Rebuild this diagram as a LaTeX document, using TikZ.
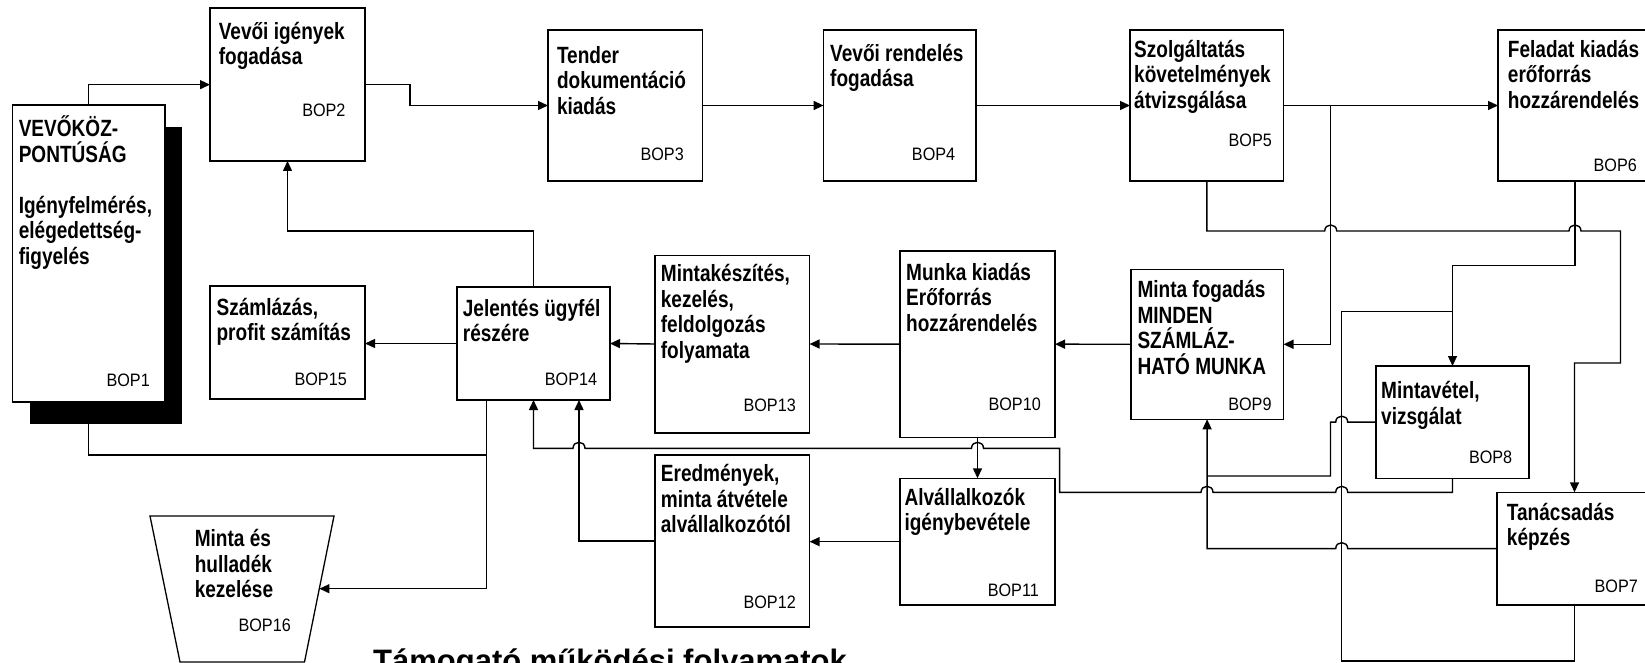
\documentclass[tikz,border=0pt]{standalone}
\usepackage{fontspec}
\setmainfont{Liberation Sans}
\newfontfamily\ttlfont[FakeStretch=0.81]{Liberation Sans}
\newfontfamily\lblfont[FakeStretch=0.9]{Liberation Sans}
\usetikzlibrary{arrows.meta}
\newcommand\ft{\rule{0pt}{24pt}}
\begin{document}
\begin{tikzpicture}[x=1pt,y=-1pt,
  box/.style={draw, line width=1.6pt, fill=white, inner sep=0pt, outer sep=0pt, anchor=north west},
  ttl/.style={anchor=north west, inner sep=0pt, align=left, font=\ttlfont\bfseries\fontsize{23.5}{25.5}\selectfont},
  lbl/.style={anchor=east, inner sep=0pt, font=\lblfont\fontsize{18}{20}\selectfont},
  conn/.style={line width=1.4pt},
  arr/.style={conn, -{Triangle[length=10pt,width=9pt]}},
  hopl/.style args={#1/#2}{insert path={-- (#1+6,#2) .. controls (#1+6,#2-8) and (#1-6,#2-8) .. (#1-6,#2)}},
  hopr/.style args={#1/#2}{insert path={-- (#1-6,#2) .. controls (#1-6,#2-8) and (#1+6,#2-8) .. (#1+6,#2)}}]
\useasboundingbox (0,0) rectangle (1645,663);
\fill[white] (0,0) rectangle (1645,663);
\clip (0,0) rectangle (1645,663);

% boxes
\node[box, fill=black, draw=none, minimum width=152.5pt, minimum height=297pt] (sh1) at (29.5,127) {};
\node[box, minimum width=152.5pt, minimum height=297pt] (b1) at (12.5,105) {};
\node[box, minimum width=155pt, minimum height=152.7pt] (b2) at (210,8.3) {};
\node[box, minimum width=154.5pt, minimum height=151pt] (b3) at (548,30) {};
\node[box, minimum width=152.4pt, minimum height=151pt] (b4) at (823.6,30) {};
\node[box, minimum width=153.6pt, minimum height=151pt] (b5) at (1130,30) {};
\node[box, minimum width=154pt, minimum height=151pt] (b6) at (1498,30) {};
\node[box, minimum width=155pt, minimum height=112.7pt] (b7) at (1497,492.3) {};
\node[box, minimum width=153pt, minimum height=112.3pt] (b8) at (1376,366) {};
\node[box, minimum width=152.8pt, minimum height=150pt] (b9) at (1130.7,269.3) {};
\node[box, minimum width=155pt, minimum height=186.3pt] (b10) at (900,251) {};
\node[box, minimum width=155pt, minimum height=126.7pt] (b11) at (900,478.3) {};
\node[box, minimum width=154.6pt, minimum height=171.7pt] (b12) at (655,455) {};
\node[box, minimum width=154.6pt, minimum height=177.4pt] (b13) at (655,255.3) {};
\node[box, minimum width=153pt, minimum height=113pt] (b14) at (457,287) {};
\node[box, minimum width=155pt, minimum height=113pt] (b15) at (210,286) {};
\draw[line width=1.3pt] (150,516) -- (334,516) -- (304.5,662) -- (180,662) -- cycle;
\coordinate (b16r) at (319.4,588.7);
\coordinate (j1) at (1330.7,105.5);
\coordinate (b14out) at (486.7,400);
\coordinate (b14in2) at (579,400);

% titles
\node[ttl] (t1) at (18.6,112.7) {\ft VEVŐKÖZ-\\PONTÚSÁG\\[25.5pt]Igényfelmérés,\\elégedettség-\\figyelés};
\node[ttl] (t2) at (218.6,15.3) {\ft Vevői igények\\fogadása};
\node[ttl] (t3) at (556.8,39.3) {\ft Tender\\dokumentáció\\kiadás};
\node[ttl] (t4) at (830,37) {\ft Vevői rendelés\\fogadása};
\node[ttl] (t5) at (1134,33.3) {\ft Szolgáltatás\\követelmények\\átvizsgálása};
\node[ttl] (t6) at (1507.7,33.3) {\ft Feladat kiadás\\erőforrás\\hozzárendelés};
\node[ttl] (t7) at (1506.7,496) {\ft Tanácsadás\\képzés};
\node[ttl] (t8) at (1381,374.3) {\ft Mintavétel,\\vizsgálat};
\node[ttl] (t9) at (1137.3,273.7) {\ft Minta fogadás\\MINDEN\\SZÁMLÁZ-\\HATÓ MUNKA};
\node[ttl] (t10) at (906,256) {\ft Munka kiadás\\Erőforrás\\hozzárendelés};
\node[ttl] (t11) at (904.3,481) {\ft Alvállalkozók\\igénybevétele};
\node[ttl] (t12) at (660.7,457.7) {\ft Eredmények,\\minta átvétele\\alvállalkozótól};
\node[ttl] (t13) at (660.7,257.7) {\ft Mintakészítés,\\kezelés,\\feldolgozás\\folyamata};
\node[ttl] (t14) at (462.7,292) {\ft Jelentés ügyfél\\részére};
\node[ttl] (t15) at (216.4,291) {\ft Számlázás,\\profit számítás};
\node[ttl] (t16) at (194.6,522.7) {\ft Minta és\\hulladék\\kezelése};

% labels
\node[lbl] (l1) at (150,380) {BOP1};
\node[lbl] (l2) at (345.7,110) {BOP2};
\node[lbl] (l3) at (684,154) {BOP3};
\node[lbl] (l4) at (955.4,154) {BOP4};
\node[lbl] (l5) at (1272,140) {BOP5};
\node[lbl] (l6) at (1637,165.7) {BOP6};
\node[lbl] (l7) at (1638,586.7) {BOP7};
\node[lbl] (l8) at (1512.4,457.7) {BOP8};
\node[lbl] (l9) at (1271.7,404.3) {BOP9};
\node[lbl] (l10) at (1041,404.3) {BOP10};
\node[lbl] (l11) at (1039,590) {BOP11};
\node[lbl] (l12) at (796,602.7) {BOP12};
\node[lbl] (l13) at (796,405) {BOP13};
\node[lbl] (l14) at (597.3,379.3) {BOP14};
\node[lbl] (l15) at (347,379) {BOP15};
\node[lbl] (l16) at (291,625.7) {BOP16};

\node[anchor=base west, inner sep=0pt, font=\bfseries\fontsize{31}{34}\selectfont] (title) at (373,671.5) {Támogató működési folyamatok};

% connectors
\draw[arr] (b1.north) |- (b2.west);
\draw[arr] (b2.east) -- ++(45,0) |- (b3.west);
\draw[arr] (b3.east) -- (b4.west);
\draw[arr] (b4.east) -- (b5.west);
\draw[arr] (b5.east) -- (b6.west);
\draw[arr] (j1) |- (b9.east);
\draw[arr] (b5.south) -- ++(0,50) [hopr=1330.7/231] [hopr=1575/231] -- (1620.5,231) |- (1574.5,363) -- (b7.north);
\draw[arr] (b6.south) -- (1575,265.7) -| (b8.north);
\draw[conn] (b7.south) -- ++(0,56) -| (1341.7,311.7) -- (1452.5,311.7);
\draw[conn] (b8.west) [hopl=1341.7/422.15] -- (1330.5,422.15) |- (1207,476);
\draw[arr] (b7.west) [hopl=1341.7/548.65] -| (b9.south);
\draw[arr] (b8.south) -- ++(0,14) [hopl=1341.7/492.3] [hopl=1207/492.3] -- (1059.6,492.3) -- (1059.6,448.3) [hopl=977.5/448.3] [hopl=579/448.3] -| (b14.south);
\draw[arr] (b10.south) -- (b11.north);
\draw[arr] (b9.west) -- (b10.east);
\draw[arr] (b10.west) -- (b13.east);
\draw[arr] (b13.west) -- (b14.east);
\draw[arr] (b14.west) -- (b14.west -| b15.east);
\draw[arr] (b11.west) -- (b11.west -| b12.east);
\draw[arr] (b12.west) -| (b14in2);
\draw[arr] (b14.north) -- ++(0,-56) -| (b2.south);
\draw[arr] (b14out) |- (b16r);
\draw[conn] (b1.south |- sh1.south) |- (486.7,455);
\end{tikzpicture}
\end{document}
